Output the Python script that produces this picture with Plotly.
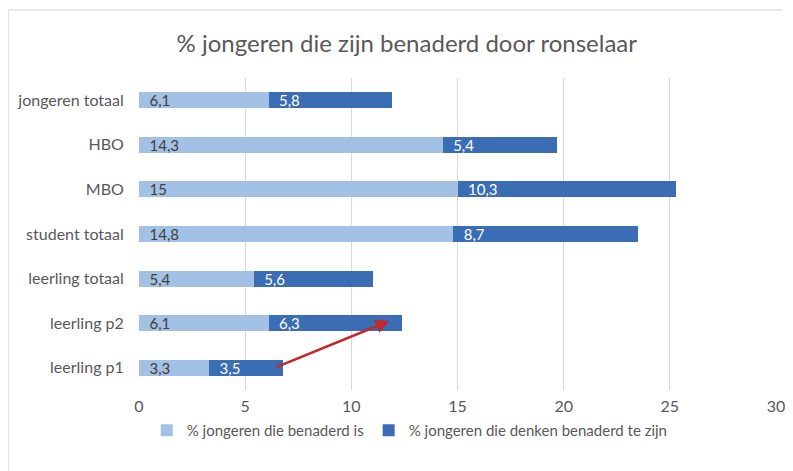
import plotly.graph_objects as go

groepen = ['leerling p1', 'leerling p2', 'leerling totaal', 'student totaal', 'MBO', 'HBO', 'jongeren totaal']
benaderd = [3.3, 6.1, 5.4, 14.8, 15, 14.3, 6.1]
denken_benaderd = [3.5, 6.3, 5.6, 8.7, 10.3, 5.4, 5.8]
x_ticks = [0, 5, 10, 15, 20, 25, 30]

def nl(v):
    return str(v).replace('.', ',')

fnt = "Lato, Open Sans, sans-serif"
grijs = '#595959'

fig = go.Figure()
fig.add_trace(go.Bar(
    y=groepen, x=benaderd, orientation='h', name='% jongeren die benaderd is',
    marker=dict(color='#A3C1E5', line=dict(width=0)), text=[nl(v) for v in benaderd],
    texttemplate='\u2002%{text}',
    textposition='inside', insidetextanchor='start', textangle=0, constraintext='none',
    textfont=dict(color='#404040', size=15, family=fnt)))
fig.add_trace(go.Bar(
    y=groepen, x=denken_benaderd, orientation='h', name='% jongeren die denken benaderd te zijn',
    marker=dict(color='#3A6DB4', line=dict(width=0)), text=[nl(v) for v in denken_benaderd],
    texttemplate='\u2002%{text}',
    textposition='inside', insidetextanchor='start', textangle=0, constraintext='none',
    textfont=dict(color='white', size=15, family=fnt)))

# rode pijl van leerling p1 naar leerling p2
fig.add_annotation(x=11.8, y=1.05, ax=6.4, ay=0, xref='x', yref='y', axref='x', ayref='y',
                   showarrow=True, arrowhead=2, arrowsize=1.1, arrowwidth=2.5,
                   arrowcolor='#C0282A', text='')

# pagina heeft 8px body-marge, daarom 785x463
fig.update_layout(
    barmode='stack', bargap=0.64,
    width=785, height=463,
    margin=dict(l=131, r=17, t=70, b=81, autoexpand=False),
    paper_bgcolor='white', plot_bgcolor='white',
    font=dict(family=fnt, color=grijs, size=16),
    title=dict(text='% jongeren die zijn benaderd door ronselaar', x=0.508, y=0.924,
               xanchor='center', yanchor='middle', font=dict(size=24, color=grijs, family=fnt)),
    legend=dict(orientation='h', x=0.425, y=-0.13, xanchor='center', yanchor='middle',
                bgcolor='rgba(0,0,0,0)',
                font=dict(size=15, color=grijs), traceorder='normal'),
    xaxis=dict(range=[0, 30], tickvals=x_ticks, showgrid=True, gridcolor='#D9D9D9',
               zeroline=False, showline=False, ticks='outside', ticklen=2,
               tickcolor='rgba(0,0,0,0)', automargin=False,
               tickfont=dict(size=16, color=grijs)),
    yaxis=dict(showgrid=False, zeroline=False, ticks='outside', ticklen=11,
               tickcolor='rgba(0,0,0,0)', automargin=False,
               tickfont=dict(size=16, color=grijs)),
    shapes=[
        dict(type='line', xref='paper', yref='paper', x0=-0.205, x1=1.01, y0=1.218, y1=1.218,
             line=dict(color='#E3E3E3', width=1.5)),
        dict(type='line', xref='paper', yref='paper', x0=-0.205, x1=-0.205, y0=1.218, y1=-0.3,
             line=dict(color='#E3E3E3', width=1.5)),
    ],
)

fig.write_html("out.html")
